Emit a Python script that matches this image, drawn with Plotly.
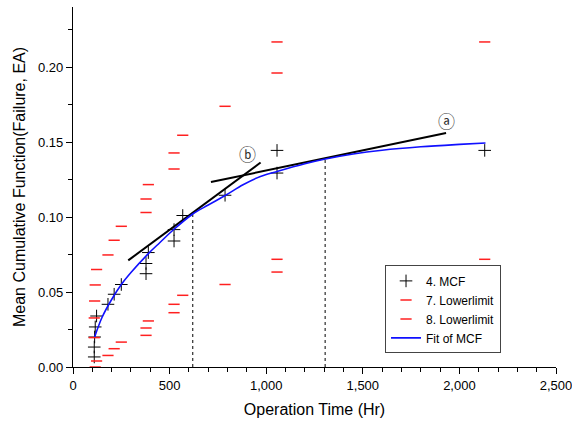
import plotly.graph_objects as go

# ---- data ----
mcf_x = [110, 110, 112, 115, 122, 181, 213, 250, 378, 378, 390, 523, 523, 568, 787, 1056, 1056, 2131]
mcf_y = [0.0067, 0.0133, 0.0200, 0.0267, 0.0340, 0.0418, 0.0485, 0.0550, 0.0622, 0.0690, 0.0763,
         0.0840, 0.0916, 0.1010, 0.1145, 0.1293, 0.1444, 0.1444]

low_x = [115, 122, 181, 213, 250, 378, 378, 390, 523, 523, 568, 787, 1056, 1056, 2131]
low_y = [0.0000, 0.0040, 0.0077, 0.0122, 0.0166, 0.0211, 0.0260, 0.0307, 0.0362, 0.0418, 0.0478,
         0.0550, 0.0633, 0.0718, 0.0718]

up_x = [110, 110, 112, 115, 122, 181, 213, 250, 378, 378, 390, 523, 523, 568, 787, 1056, 1056, 2131]
up_y = [0.0196, 0.0327, 0.0440, 0.0547, 0.0650, 0.0747, 0.0845, 0.0938, 0.1030, 0.1120, 0.1216,
        0.1320, 0.1427, 0.1545, 0.1738, 0.1960, 0.2167, 0.2167]

fit_x = [112, 150, 200, 250, 300, 390, 450, 520, 620, 700, 790, 880, 970, 1060, 1200, 1300, 1450,
         1600, 1800, 2000, 2135]
fit_y = [0.0200, 0.0330, 0.0450, 0.0550, 0.0630, 0.0756, 0.0830, 0.0915, 0.1020, 0.1080, 0.1145,
         0.1215, 0.1270, 0.1305, 0.1355, 0.1385, 0.1420, 0.1445, 0.1468, 0.1484, 0.1493]

tan_b_x = [286, 971]
tan_b_y = [0.0711, 0.1363]
tan_a_x = [714, 1931]
tan_a_y = [0.1233, 0.1560]

drop1_x = [620, 620]
drop1_y = [0.0, 0.1015]
drop2_x = [1305, 1305]
drop2_y = [0.0, 0.1388]

label_text = ["ⓑ", "ⓐ"]
label_x = [902, 1931]
label_y = [0.1411, 0.1633]

FONT = "Liberation Sans, Arial, sans-serif"

fig = go.Figure()

# guide lines (not in legend)
for xs, ys in [(drop1_x, drop1_y), (drop2_x, drop2_y)]:
    fig.add_trace(go.Scatter(x=xs, y=ys, mode="lines", showlegend=False, hoverinfo="skip",
                             line=dict(color="black", width=1, dash="dot")))
for xs, ys in [(tan_b_x, tan_b_y), (tan_a_x, tan_a_y)]:
    fig.add_trace(go.Scatter(x=xs, y=ys, mode="lines", showlegend=False, hoverinfo="skip",
                             line=dict(color="black", width=2)))

fig.add_trace(go.Scatter(x=mcf_x, y=mcf_y, mode="markers", name="4. MCF", cliponaxis=False,
                         marker=dict(symbol="cross-thin", size=9, line=dict(color="black", width=1))))
fig.add_trace(go.Scatter(x=low_x, y=low_y, mode="markers", name="7. Lowerlimit", cliponaxis=False,
                         marker=dict(symbol="line-ew", size=8, line=dict(color="#ff2020", width=1.5))))
fig.add_trace(go.Scatter(x=up_x, y=up_y, mode="markers", name="8. Lowerlimit", cliponaxis=False,
                         marker=dict(symbol="line-ew", size=8, line=dict(color="#ff2020", width=1.5))))
fig.add_trace(go.Scatter(x=fit_x, y=fit_y, mode="lines", name="Fit of MCF",
                         line=dict(color="#1010ff", width=1.6, shape="spline")))

for t, x, y in zip(label_text, label_x, label_y):
    fig.add_annotation(x=x, y=y, text=t, showarrow=False,
                       font=dict(family="DejaVu Sans, Noto Sans CJK SC", size=17, color="#333333"))

fig.update_layout(
    width=572, height=425,
    margin=dict(l=73, r=16, t=7, b=58),
    paper_bgcolor="white", plot_bgcolor="white",
    font=dict(family=FONT, size=13, color="black"),
    legend=dict(x=0.646, y=0.16, xanchor="left", yanchor="middle",
                bordercolor="#444444", borderwidth=1, bgcolor="white",
                font=dict(family=FONT, size=12), tracegroupgap=0),
    xaxis=dict(range=[0, 2500], dtick=500, tickformat=",", showgrid=False, zeroline=False,
               automargin=False, ticklabeloverflow="allow",
               showline=True, linecolor="black", linewidth=1.3,
               ticks="outside", ticklen=6, tickwidth=1.3, tickcolor="black",
               minor=dict(dtick=100, ticks="outside", ticklen=4, tickwidth=1, tickcolor="black"),
               title=dict(text="Operation Time (Hr)", font=dict(size=16), standoff=12),
               tickfont=dict(size=13)),
    yaxis=dict(range=[0, 0.24], dtick=0.05, tickformat=".2f", showgrid=False, zeroline=False,
               automargin=False,
               showline=True, linecolor="black", linewidth=1.3,
               ticks="outside", ticklen=6, tickwidth=1.3, tickcolor="black",
               minor=dict(dtick=0.025, ticks="outside", ticklen=4, tickwidth=1, tickcolor="black"),
               title=dict(text="Mean Cumulative Function(Failure, EA)", font=dict(size=16), standoff=8),
               tickfont=dict(size=13)),
)

fig.write_html("out.html", config={"displayModeBar": False},
               post_script="document.body.style.margin='0';document.body.style.overflow='hidden';")
